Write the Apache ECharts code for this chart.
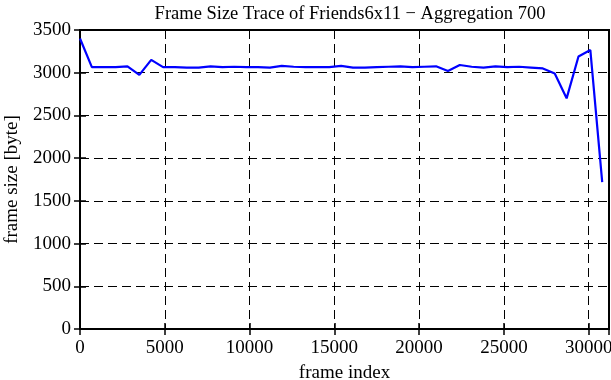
<!DOCTYPE html>
<html><head><meta charset="utf-8">
<script src="https://cdn.jsdelivr.net/npm/echarts@6/dist/echarts.min.js"></script>
<style>html,body{margin:0;padding:0;background:#fff}#c{width:611px;height:380px}</style>
</head><body><div id="c"></div>
<script>
const title = "Frame Size Trace of Friends6x11 \u2212 Aggregation 700";
const xName = "frame index";
const yName = "frame size [byte]";
const frameIndex = [0,700,1400,2100,2800,3500,4200,4900,5600,6300,7000,7700,8400,9100,9800,10500,11200,11900,12600,13300,14000,14700,15400,16100,16800,17500,18200,18900,19600,20300,21000,21700,22400,23100,23800,24500,25200,25900,26600,27300,28000,28700,29400,30100,30800];
const frameSize = [3400,3065,3065,3065,3075,2975,3150,3065,3065,3060,3060,3075,3065,3070,3065,3065,3060,3080,3070,3065,3065,3065,3080,3060,3060,3065,3070,3075,3065,3070,3075,3020,3090,3070,3060,3075,3065,3070,3060,3050,2990,2700,3190,3265,1720];
const xTicks = [0,5000,10000,15000,20000,25000,30000];
const yTicks = [0,500,1000,1500,2000,2500,3000,3500];

const font = "Liberation Serif";
const chart = echarts.init(document.getElementById('c'));
const data = frameIndex.map((x,i)=>[x,frameSize[i]]);
const axBase = {
  axisLine:{show:true,lineStyle:{color:'#000',width:2}},
  axisTick:{show:true,inside:true,length:6,lineStyle:{color:'#000',width:1.5}},
};
chart.setOption({
  animation:false,
  title:{text:title,left:345,textAlign:'center',top:0,textStyle:{fontFamily:font,fontWeight:'normal',fontSize:18.5,color:'#000'}},
  grid:{left:80,right:2,top:30,bottom:51,outerBoundsMode:'none',containLabel:false,show:true,borderColor:'#000',borderWidth:2},
  xAxis:[{
    type:'value',min:0,max:31200,interval:5000,
    name:xName,nameLocation:'middle',nameGap:35,
    nameTextStyle:{fontFamily:font,fontSize:19,color:'#000'},
    ...axBase,
    axisLabel:{fontFamily:font,fontSize:19,color:'#000',margin:10,
      formatter:v=>xTicks.includes(v)?String(v):''},
    splitLine:{show:true,lineStyle:{color:'#000',type:[9,5],width:1}}
  },{
    type:'value',position:'top',min:0,max:31200,interval:5000,
    ...axBase,axisLabel:{show:false},splitLine:{show:false}
  }],
  yAxis:[{
    type:'value',min:0,max:3500,interval:500,
    name:yName,nameLocation:'middle',nameGap:58,
    nameTextStyle:{fontFamily:font,fontSize:19,color:'#000'},
    ...axBase,
    axisLabel:{fontFamily:font,fontSize:19,color:'#000',margin:9,
      formatter:v=>yTicks.includes(v)?String(v):''},
    splitLine:{show:true,lineStyle:{color:'#000',type:[9,5],width:1}}
  },{
    type:'value',position:'right',min:0,max:3500,interval:500,
    ...axBase,axisLabel:{show:false},splitLine:{show:false}
  }],
  series:[{type:'line',data:data,showSymbol:false,symbol:'none',
    lineStyle:{color:'#0000ff',width:2.2},itemStyle:{color:'#0000ff'}}]
});
</script></body></html>
